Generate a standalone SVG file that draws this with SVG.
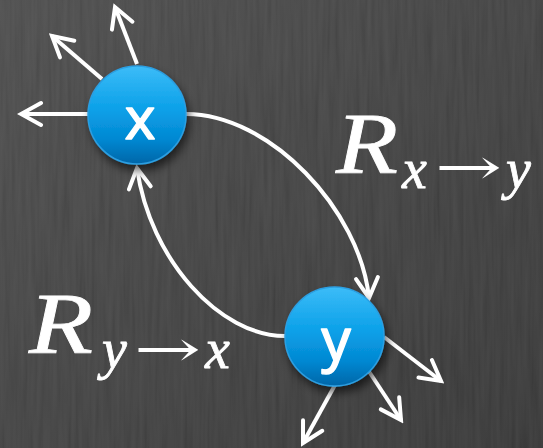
<svg xmlns="http://www.w3.org/2000/svg" width="543" height="448" viewBox="0 0 543 448">
  <defs>
    <linearGradient id="bg" x1="0" y1="0" x2="1" y2="1">
      <stop offset="0" stop-color="#4a4a4a"/>
      <stop offset="1" stop-color="#333333"/>
    </linearGradient>
    <linearGradient id="ball" x1="0" y1="0" x2="0" y2="1">
      <stop offset="0" stop-color="#3cbcf8"/>
      <stop offset="0.45" stop-color="#0aa0e8"/>
      <stop offset="0.75" stop-color="#0488d2"/>
      <stop offset="1" stop-color="#0466a8"/>
    </linearGradient>
    <filter id="grain" x="0" y="0" width="100%" height="100%">
      <feTurbulence type="fractalNoise" baseFrequency="0.25 0.012" numOctaves="2" seed="7"/>
      <feColorMatrix type="matrix" values="1 0 0 0 0  1 0 0 0 0  1 0 0 0 0  0 0 0 0 0.09"/>
    </filter>
    <filter id="shadow" x="-40%" y="-40%" width="180%" height="180%">
      <feDropShadow dx="3" dy="6" stdDeviation="5" flood-color="#000" flood-opacity="0.6"/>
    </filter>
    <marker id="head" markerUnits="userSpaceOnUse" viewBox="-24 -14 28 28" refX="0" refY="0" markerWidth="28" markerHeight="28" orient="auto">
      <path d="M-20,-11 L0,0 L-20,11" fill="none" stroke="#fff" stroke-width="4" stroke-linecap="round" stroke-linejoin="miter"/>
    </marker>
    <style>
      .edge { fill: none; stroke: #fff; stroke-width: 4; marker-end: url(#head); }
      .ball { fill: url(#ball); stroke: #2c9fe2; stroke-width: 1.5; filter: url(#shadow); }
      .nlabel { font-family: "Noto Sans", "Open Sans", sans-serif; font-weight: 400; font-size: 58px; fill: #fff; stroke: #fff; stroke-width: 1.3; stroke-linejoin: round; text-anchor: middle; }
      .m { font-family: "Liberation Serif", "DejaVu Serif", serif; font-style: italic; fill: #fff; stroke: #fff; stroke-width: 0.8; }
      .big { font-size: 86px; }
      .sub { font-size: 56px; }
      .arr { font-family: "DejaVu Serif", serif; font-style: normal; font-size: 50px; fill: #fff; stroke: none; }
    </style>
  </defs>

  <rect width="543" height="448" fill="url(#bg)"/>
  <rect width="543" height="448" filter="url(#grain)"/>

  <g id="connectors">
    <path class="edge" d="M88,114 L21,114"/>
    <path class="edge" d="M102,79 L52,36"/>
    <path class="edge" d="M137,64 L115,7"/>
    <path class="edge" d="M186,114 C270,114 360,210 369,298"/>
    <path class="edge" d="M285,336 C220,336 150,260 137,168"/>
    <path class="edge" d="M384,337 L441,381"/>
    <path class="edge" d="M368,370 L401,420"/>
    <path class="edge" d="M335,385 L303,443"/>
  </g>

  <g id="node-x">
    <circle class="ball" cx="137" cy="115" r="49"/>
    <text class="nlabel" x="140" y="139">x</text>
  </g>

  <g id="node-y">
    <circle class="ball" cx="334.5" cy="336.5" r="49.5"/>
    <text class="nlabel" x="336" y="360">y</text>
  </g>

  <g id="label-xy">
    <text class="m"><tspan class="big" x="336" y="173" textLength="62" lengthAdjust="spacingAndGlyphs">R</tspan><tspan class="sub" x="402" y="188">x</tspan><tspan class="arr" x="435" y="184" textLength="67" lengthAdjust="spacingAndGlyphs">→</tspan><tspan class="sub" x="506" y="188">y</tspan></text>
  </g>

  <g id="label-yx">
    <text class="m"><tspan class="big" x="29" y="353" textLength="64" lengthAdjust="spacingAndGlyphs">R</tspan><tspan class="sub" x="102" y="368">y</tspan><tspan class="arr" x="134" y="366" textLength="67" lengthAdjust="spacingAndGlyphs">→</tspan><tspan class="sub" x="205" y="368">x</tspan></text>
  </g>
</svg>
